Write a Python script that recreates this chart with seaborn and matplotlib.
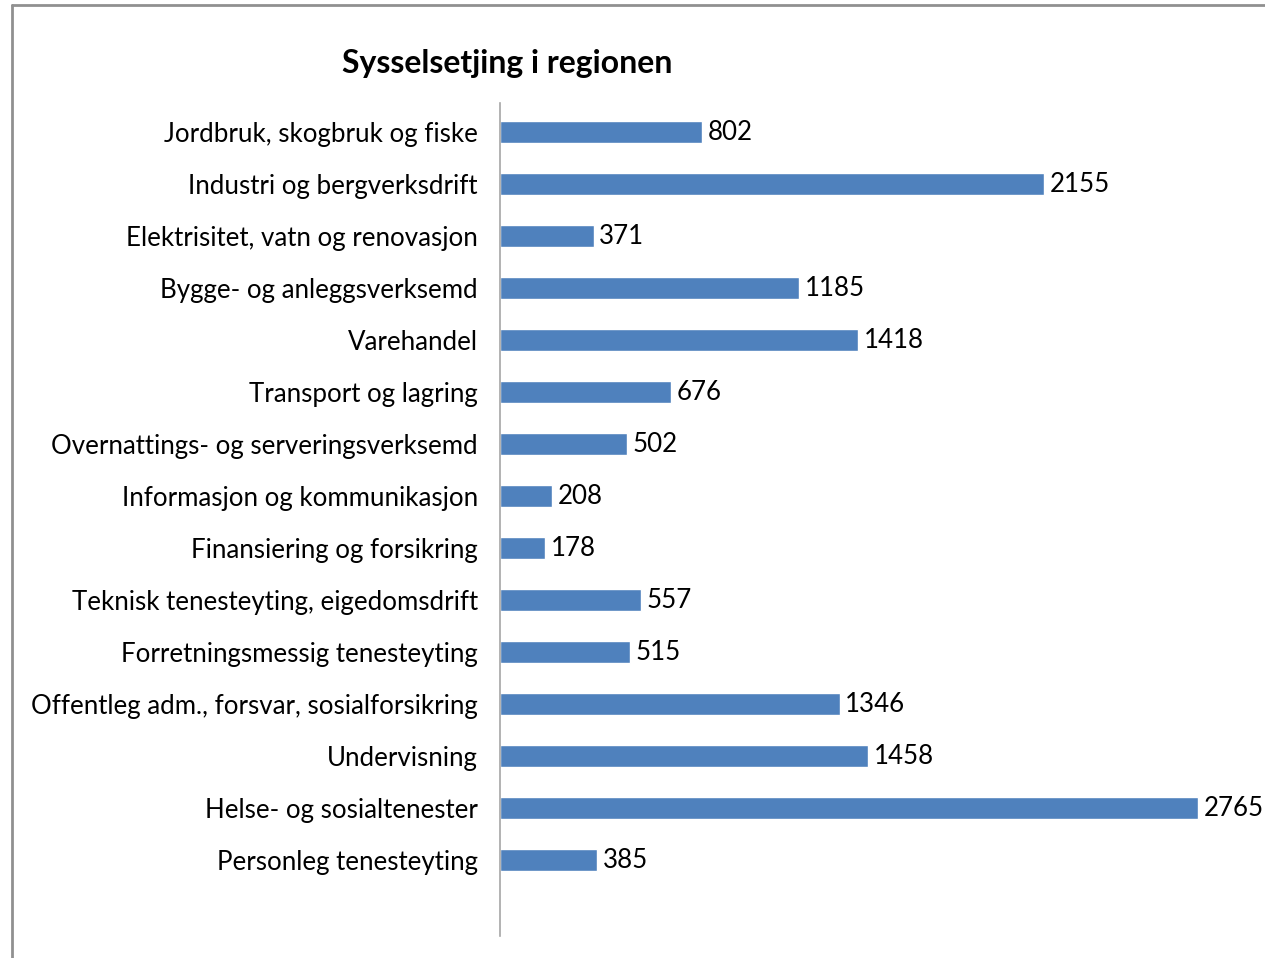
import pandas as pd
import seaborn as sns
import matplotlib.pyplot as plt
from matplotlib.lines import Line2D

# data ----------------------------------------------------------------
categories = [
    "Jordbruk, skogbruk og fiske",
    "Industri og bergverksdrift",
    "Elektrisitet, vatn og renovasjon",
    "Bygge- og anleggsverksemd",
    "Varehandel",
    "Transport og lagring",
    "Overnattings- og serveringsverksemd",
    "Informasjon og kommunikasjon",
    "Finansiering og forsikring",
    "Teknisk tenesteyting, eigedomsdrift",
    "Forretningsmessig tenesteyting",
    "Offentleg adm., forsvar, sosialforsikring",
    "Undervisning",
    "Helse- og sosialtenester",
    "Personleg tenesteyting",
]
employed = [802, 2155, 371, 1185, 1418, 676, 502, 208, 178, 557, 515, 1346, 1458, 2765, 385]

df = pd.DataFrame({"naering": categories, "sysselsette": employed})

sns.set_style("white")
plt.rcParams["font.family"] = ["Lato", "DejaVu Sans"]
plt.rcParams["text.color"] = "black"
plt.rcParams["ytick.color"] = "black"

fig = plt.figure(figsize=(12.65, 9.58), dpi=100)
ax = fig.add_axes([500 / 1265, 22 / 958, 757 / 1265, 833 / 958])

sns.barplot(data=df, y="naering", x="sysselsette", color="#4F81BD",
            width=0.42, saturation=1, ax=ax)

ax.set_xlim(0, 3000)
ax.set_ylim(15.46, -0.56)  # empty space below the last bar, as in the original
ax.set_xlabel("")
ax.set_ylabel("")
ax.set_xticks([])
ax.tick_params(axis="y", length=0, pad=16, labelsize=18.6, labelcolor="black")

sns.despine(ax=ax, top=True, right=True, bottom=True, left=False)
ax.spines["left"].set_color("#A6A6A6")
ax.spines["left"].set_linewidth(1.2)

# value labels
for p in ax.patches:
    w = p.get_width()
    ax.annotate(f"{w:.0f}", (w, p.get_y() + p.get_height() / 2),
                xytext=(4, 0), textcoords="offset points",
                ha="left", va="center", fontsize=18.6, color="black")

fig.text(507 / 1265, 1 - 63 / 958, "Sysselsetjing i regionen",
         ha="center", va="center", fontsize=23, fontweight="bold", color="black")

# chart border (top and left edges visible)
fig.add_artist(Line2D([11.5 / 1265, 1], [1 - 4.5 / 958, 1 - 4.5 / 958],
                      transform=fig.transFigure, color="#909090", lw=2))
fig.add_artist(Line2D([11.5 / 1265, 11.5 / 1265], [0, 1 - 4.5 / 958],
                      transform=fig.transFigure, color="#909090", lw=2))

fig.savefig("out.png", dpi=100)
